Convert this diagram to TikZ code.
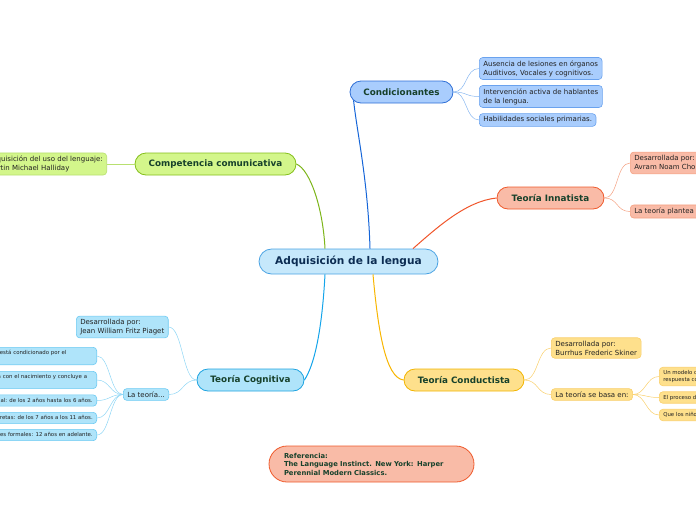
\documentclass[tikz,border=0pt]{standalone}
\usepackage{fontspec}
\setmainfont{DejaVu Sans}
\usetikzlibrary{calc}
\definecolor{rootf}{HTML}{C6E8FB}
\definecolor{rootb}{HTML}{4BA3E3}
\definecolor{roott}{HTML}{0C2C52}
\definecolor{brt}{HTML}{17412B}
\definecolor{leaft}{HTML}{222222}
\definecolor{condf}{HTML}{A9CDFD}
\definecolor{condb}{HTML}{2F6FD6}
\definecolor{condl}{HTML}{6AA2EE}
\definecolor{condc}{HTML}{1565D8}
\definecolor{condt}{HTML}{88B7F0}
\definecolor{compf}{HTML}{D3F68B}
\definecolor{compb}{HTML}{84BF1A}
\definecolor{compc}{HTML}{7DB51A}
\definecolor{compl}{HTML}{B8E070}
\definecolor{innf}{HTML}{F9BBA7}
\definecolor{innb}{HTML}{EF5A2C}
\definecolor{innc}{HTML}{F0552A}
\definecolor{innl}{HTML}{F4A182}
\definecolor{cogf}{HTML}{AFE4FA}
\definecolor{cogb}{HTML}{1EA3E0}
\definecolor{cogc}{HTML}{14A4EA}
\definecolor{cogl}{HTML}{6CCAF2}
\definecolor{cogt}{HTML}{8FD6F5}
\definecolor{conf}{HTML}{FEE08C}
\definecolor{conb}{HTML}{F2B400}
\definecolor{conc}{HTML}{F8B500}
\definecolor{conl}{HTML}{F9CF6A}
\begin{document}
\begin{tikzpicture}[x=1pt,y=-1pt,
  root/.style={draw=rootb, fill=rootf, line width=0.8pt, rounded corners=12.5pt,
    minimum width=179pt, minimum height=25pt, inner sep=0pt,
    font=\fontsize{10.6}{12}\selectfont\bfseries, text=roott},
  branch/.style={line width=0.8pt, rounded corners=11pt, minimum height=22pt,
    inner sep=0pt, font=\fontsize{8.8}{10}\selectfont\bfseries, text=brt},
  leaf/.style={line width=0.6pt, rounded corners=3.5pt, align=left,
    inner xsep=4pt, inner ysep=3pt, font=\fontsize{7}{9}\selectfont, text=leaft},
  tiny/.style={leaf, font=\fontsize{5.4}{7}\selectfont},
  mainline/.style={line width=1pt},
  conn/.style={line width=0.5pt}]
\useasboundingbox (0,0) rectangle (696,520);
\clip (0,0) rectangle (696,520);

% central and branches
\node[root] (cen) at (348.5,261.5) {Adquisición de la lengua};
\node[branch, draw=condb, fill=condf, minimum width=103pt] (cond) at (401.5,92) {Condicionantes};
\node[branch, draw=compb, fill=compf, minimum width=161pt] (comp) at (215.5,164) {Competencia comunicativa};
\node[branch, draw=innb, fill=innf, minimum width=107pt] (inn) at (550.5,198) {Teoría Innatista};
\node[branch, draw=cogb, fill=cogf, minimum width=107pt] (cog) at (250.5,380) {Teoría Cognitiva};
\node[branch, draw=conb, fill=conf, minimum width=120pt] (con) at (464,380) {Teoría Conductista};
\node[branch, draw=innb, fill=innf, minimum width=205pt, minimum height=36pt,
  rounded corners=18pt, align=left, text width=175pt, inner xsep=15pt,
  font=\fontsize{6.8}{8.5}\selectfont\bfseries] (ref) at (371.5,464)
  {Referencia:\\The Language Instinct. New York: Harper\\Perennial Modern Classics.};

% Condicionantes leaves
\node[leaf, draw=condl, fill=condf, anchor=west] (c1) at (479,68.5) {Ausencia de lesiones en órganos\\Auditivos, Vocales y cognitivos.};
\node[leaf, draw=condl, fill=condf, anchor=west] (c2) at (479,96.5) {Intervención activa de hablantes\\de la lengua.};
\node[leaf, draw=condl, fill=condf, anchor=west] (c3) at (479,120) {Habilidades sociales primarias.};

% Competencia leaf
\node[leaf, draw=compl, fill=compf, anchor=east] (p1) at (107,164) {Adquisición del uso del lenguaje:\\Martin Michael Halliday};

% Innatista leaves
\node[leaf, draw=innl, fill=innf, anchor=west] (i1) at (630,163) {Desarrollada por:\\Avram Noam Chomsky};
\node[leaf, draw=innl, fill=innf, anchor=west] (i2) at (630,211.5) {La teoría plantea que el lenguaje es innato.};

% Cognitiva leaves
\node[leaf, draw=cogl, fill=cogf, anchor=west] (g1) at (76,327) {Desarrollada por:\\Jean William Fritz Piaget};
\node[leaf, draw=cogl, fill=cogf, anchor=west] (g2) at (123,394.5) {La teoría...};
\node[tiny, draw=cogl, fill=cogf, anchor=east, text width=128pt] (g3) at (97,356) {El desarrollo está condicionado por el\\medio.};
\node[tiny, draw=cogl, fill=cogf, anchor=east, text width=170pt] (g4) at (97,380) {Etapa sensoriomotora: inicia con el nacimiento y concluye a\\los 2 años.};
\node[tiny, draw=cogl, fill=cogf, anchor=east] (g5) at (97,400.5) {Etapa preoperacional: de los 2 años hasta los 6 años.};
\node[tiny, draw=cogl, fill=cogf, anchor=east] (g6) at (97,418) {Etapa de las operaciones concretas: de los 7 años a los 11 años.};
\node[tiny, draw=cogl, fill=cogf, anchor=east] (g7) at (97,435) {Etapa de las operaciones formales: 12 años en adelante.};

% Conductista leaves
\node[leaf, draw=conl, fill=conf, anchor=west] (k1) at (551,348) {Desarrollada por:\\Burrhus Frederic Skiner};
\node[leaf, draw=conl, fill=conf, anchor=west] (k2) at (551,394.5) {La teoría se basa en:};
\node[tiny, draw=conl, fill=conf, anchor=west] (k3) at (659,376.5) {Un modelo de estímulo-\\respuesta condicionada.};
\node[tiny, draw=conl, fill=conf, anchor=west] (k4) at (659,397.5) {El proceso de imitación y refuerzo.};
\node[tiny, draw=conl, fill=conf, anchor=west] (k5) at (659,415) {Que los niños aprenden por imitación.};

% main connectors
\draw[mainline, condc] ($(cen.north)+(21.5,0)$) .. controls +(-2,-69) and +(3,30) .. ($(cond.south west)+(4,-3)$);
\draw[mainline, compc] (comp.east) .. controls +(14,6) and +(-2,-40) .. ($(cen.north)+(-23.5,0)$);
\draw[mainline, innc] ($(cen.north)+(64.5,0)$) .. controls +(25,-22) and +(-30,3) .. (inn.west);
\draw[mainline, cogc] ($(cen.south)+(-23.5,0)$) .. controls +(-3,56) and +(10,-15) .. (cog.east);
\draw[mainline, conc] ($(cen.south)+(24.5,0)$) .. controls +(5,56) and +(-18,-2) .. (con.west);

% thin connectors
\foreach \c in {c1,c2,c3}
  \draw[conn, condt] (cond.east) .. controls +(14,0) and +(-14,0) .. (\c.west);
\draw[conn, compl] (comp.west) -- (p1.east);
\foreach \c in {i1,i2}
  \draw[conn, innl] (inn.east) .. controls +(14,0) and +(-14,0) .. (\c.west);
\foreach \c in {g1,g2}
  \draw[conn, cogt] (cog.west) .. controls +(-14,0) and +(14,0) .. (\c.east);
\foreach \c in {g3,g4,g5,g6,g7}
  \draw[conn, cogt] (g2.west) .. controls +(-13,0) and +(13,0) .. (\c.east);
\foreach \c in {k1,k2}
  \draw[conn, conl] (con.east) .. controls +(14,0) and +(-14,0) .. (\c.west);
\foreach \c in {k3,k4,k5}
  \draw[conn, conl] (k2.east) .. controls +(13,0) and +(-13,0) .. (\c.west);
\end{tikzpicture}
\end{document}
